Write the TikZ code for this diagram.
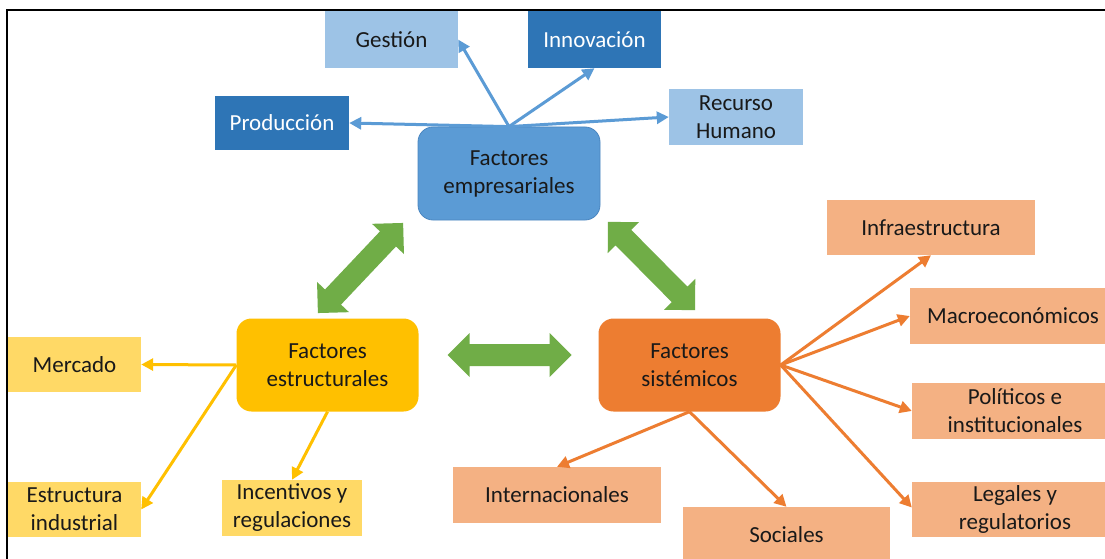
\documentclass[tikz,border=0pt]{standalone}
\usepackage{fontspec}
\setmainfont{Carlito}
\usetikzlibrary{arrows.meta,calc}
\definecolor{lblue}{HTML}{9DC3E6}
\definecolor{dblue}{HTML}{2E75B6}
\definecolor{mblue}{HTML}{5B9BD5}
\definecolor{mbluedark}{HTML}{4A86C0}
\definecolor{myellow}{HTML}{FFC000}
\definecolor{lyellow}{HTML}{FFD966}
\definecolor{morange}{HTML}{ED7D31}
\definecolor{lorange}{HTML}{F4B183}
\definecolor{mgreen}{HTML}{70AD47}
\begin{document}
\begin{tikzpicture}[x=1pt,y=1pt,
  box/.style={rectangle, inner sep=0pt, align=center, font=\fontsize{23}{28}\selectfont, text=black!90},
  lbluebox/.style={box, fill=lblue},
  dbluebox/.style={box, fill=dblue, text=white},
  ybox/.style={box, fill=lyellow},
  obox/.style={box, fill=lorange},
  mainbox/.style={box, rounded corners=15pt, minimum width=182, minimum height=93},
  barrow/.style={draw=mblue, line width=3pt, -{Triangle[length=12pt,width=12pt]}},
  yarrow/.style={draw=myellow, line width=3pt, -{Triangle[length=12pt,width=12pt]}},
  oarrow/.style={draw=morange, line width=3pt, -{Triangle[length=12pt,width=12pt]}},
  dblarrow/.pic={\fill[mgreen] (-62,0) -- (-40,22) -- (-40,11) -- (40,11) -- (40,22) -- (62,0)
     -- (40,-22) -- (40,-11) -- (-40,-11) -- (-40,-22) -- cycle;}
]
\useasboundingbox (0,0) rectangle (1105,-559);
\fill[white] (0,0) rectangle (1105,-559);
\begin{scope}
\clip (0,0) rectangle (1105,-559);
% business factors
\node[lbluebox, minimum width=133, minimum height=57] (gest) at (391.5,-39.5) {Gestión};
\node[dbluebox, minimum width=133, minimum height=57] (inno) at (594.5,-39.5) {Innovación};
\node[dbluebox, minimum width=134, minimum height=54] (prod) at (282,-123) {Producción};
\node[lbluebox, minimum width=134, minimum height=56] (recu) at (736,-117) {Recurso\\Humano};
\node[mainbox, fill=mblue, draw=mbluedark, line width=0.8pt] (emp) at (509,-173.5) {Factores\\empresariales};
% structural
\node[mainbox, fill=myellow] (est) at (327.5,-365) {Factores\\estructurales};
\node[ybox, minimum width=133, minimum height=55] (merc) at (74.5,-364.5) {Mercado};
\node[ybox, minimum width=133, minimum height=55] (estind) at (74.5,-509.5) {Estructura\\industrial};
\node[ybox, minimum width=140, minimum height=56] (ince) at (292,-508) {Incentivos y\\regulaciones};
% systemic
\node[mainbox, fill=morange] (sis) at (689.5,-365) {Factores\\sistémicos};
\node[obox, minimum width=208, minimum height=56] (inter) at (557,-495) {Internacionales};
\node[obox, minimum width=207, minimum height=56] (soc) at (786.5,-535) {Sociales};
\node[obox, minimum width=208, minimum height=55] (infra) at (931,-227.5) {Infraestructura};
\node[obox, minimum width=206, minimum height=56] (macro) at (1013,-316) {Macroeconómicos};
\node[obox, minimum width=206, minimum height=56] (poli) at (1015,-411) {Políticos e\\institucionales};
\node[obox, minimum width=206, minimum height=55] (leg) at (1015,-509.5) {Legales y\\regulatorios};
% blue connectors
\draw[barrow] (emp.north) -- (prod.east);
\draw[barrow] (emp.north) -- (gest.east);
\draw[barrow] (emp.north) -- (inno.south);
\draw[barrow] (emp.north) -- (recu.west);
% yellow connectors
\draw[yarrow] (est.west) -- (merc.east);
\draw[yarrow] (est.west) -- (estind.east);
\draw[yarrow] (est.south) -- (ince.north);
% orange connectors
\draw[oarrow] (sis.east) -- (infra.south);
\draw[oarrow] (sis.east) -- (macro.west);
\draw[oarrow] (sis.east) -- (poli.west);
\draw[oarrow] (sis.east) -- ($(leg.west)+(0,2)$);
\draw[oarrow] (sis.south) -- (inter.north);
\draw[oarrow] (sis.south) -- (soc.north);
% green double arrows
\pic[rotate=46.6] at (360.5,-268) {dblarrow};
\pic[rotate=-45.3] at (651.5,-266) {dblarrow};
\pic at (509.5,-355) {dblarrow};
% frame
\draw[line width=2pt, line join=miter] (7,-559) -- (7,-10.3) -- (1105,-10.3);
\end{scope}
\end{tikzpicture}
\end{document}
